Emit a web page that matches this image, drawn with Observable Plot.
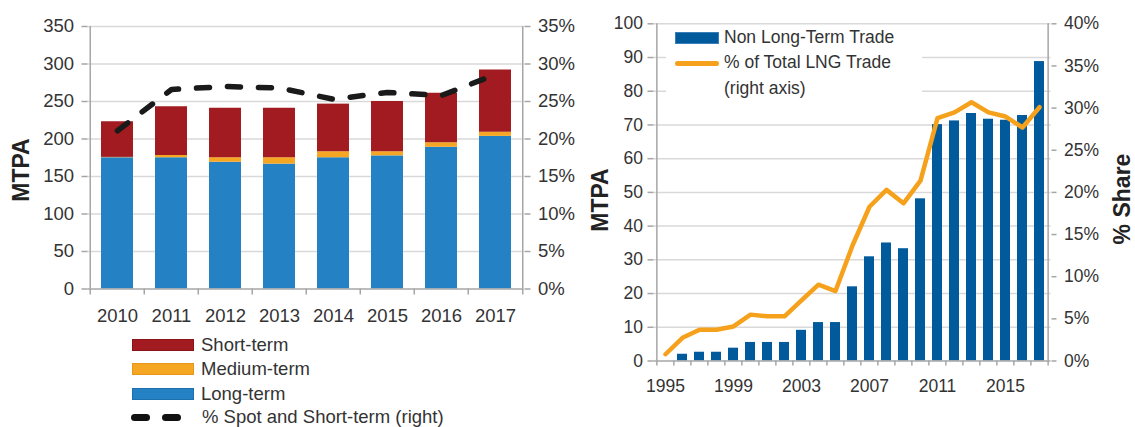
<!DOCTYPE html>
<html><head><meta charset="utf-8">
<script src="https://cdn.jsdelivr.net/npm/d3@7"></script>
<script src="https://cdn.jsdelivr.net/npm/@observablehq/plot@0.6"></script>
<style>
body{margin:0;background:#fff;}
#wrap{position:relative;width:1135px;height:427px;overflow:hidden;font-family:"Liberation Sans",Arial,sans-serif;color:#333;}
.plot{position:absolute;top:0;}
.rot{position:absolute;transform:translate(-50%,-50%) rotate(-90deg);font-weight:bold;font-size:23px;white-space:nowrap;color:#222;line-height:1;}
.leg{position:absolute;white-space:nowrap;line-height:1;}
.sw{position:absolute;}
</style></head><body><div id="wrap"></div>
<script>
// ---------- Left chart data ----------
const years = [2010, 2011, 2012, 2013, 2014, 2015, 2016, 2017];
const longTerm = [175, 175, 169, 166.5, 175, 177.5, 189, 203.5];
const mediumTerm = [0.5, 3, 6, 8.5, 8, 5.5, 6, 5.5];
const shortTerm = [47.5, 65, 66, 66, 63.5, 67, 66, 83];
const spotPct = [21.1, 26.6, 27.0, 26.8, 25.3, 26.2, 25.8, 28.6];
const types = ["Long-term", "Medium-term", "Short-term"];
const leftTicks = [0, 50, 100, 150, 200, 250, 300, 350];
const leftPctTicks = [0, 5, 10, 15, 20, 25, 30, 35];

// ---------- Right chart data ----------
const years2 = [1995,1996,1997,1998,1999,2000,2001,2002,2003,2004,2005,2006,2007,2008,2009,2010,2011,2012,2013,2014,2015,2016,2017];
const nonLT = [null, 2.0, 2.6, 2.6, 3.8, 5.5, 5.5, 5.5, 9.1, 11.4, 11.4, 22.0, 30.9, 35.0, 33.3, 48.1, 70.1, 71.2, 73.4, 71.7, 71.4, 72.8, 88.8];
const sharePct = [0.8, 2.75, 3.7, 3.7, 4.1, 5.5, 5.3, 5.3, 7.2, 9.05, 8.3, 13.7, 18.3, 20.3, 18.7, 21.4, 28.8, 29.5, 30.7, 29.5, 29.0, 27.7, 30.1];
const rightTicks = [0,10,20,30,40,50,60,70,80,90,100];
const rightPctTicks = [0,5,10,15,20,25,30,35,40];
const xLabelYears = [1995, 1999, 2003, 2007, 2011, 2015];

const C = {blue:"#2481C4", orange:"#F5A623", red:"#A11B20", navy:"#005A9C", lineOrange:"#F6A11C", axis:"#A6A6A6", grid:"#D9D9D9", text:"#333333"};
const FONT = '"Liberation Sans", Arial, sans-serif';
const wrap = document.getElementById("wrap");

// ---------- Left chart ----------
const W1 = 570, H1 = 330, ml1 = 87.5, mr1 = 46.5, mt1 = 26, mb1 = 41.5;
const step1 = (W1 - ml1 - mr1) / years.length;
const pad1 = 0.413;
const stackData = years.flatMap((y, i) => [
  {year: y, type: types[0], v: longTerm[i]},
  {year: y, type: types[1], v: mediumTerm[i]},
  {year: y, type: types[2], v: shortTerm[i]}
]);
const spotData = years.map((y, i) => ({year: y, p: spotPct[i]}));

const left = Plot.plot({
  width: W1, height: H1, marginLeft: ml1, marginRight: mr1, marginTop: mt1, marginBottom: mb1,
  style: {fontFamily: FONT, fontSize: "18px", color: C.text, background: "transparent", overflow: "visible"},
  x: {type: "band", domain: years, paddingInner: pad1, paddingOuter: pad1 / 2, axis: null},
  y: {domain: [0, 350], axis: null},
  color: {domain: types, range: [C.blue, C.orange, C.red]},
  marks: [
    Plot.gridY(leftTicks.slice(1), {stroke: C.grid, strokeOpacity: 1, strokeWidth: 1.5}),
    Plot.barY(stackData, {x: "year", y: "v", fill: "type"}),
    Plot.ruleY([0], {stroke: C.axis, strokeWidth: 1.5}),
    Plot.ruleX([years[0]], {dx: -step1 / 2, stroke: C.axis, strokeWidth: 1.5}),
    Plot.ruleX([years[years.length - 1]], {dx: step1 / 2, stroke: C.axis, strokeWidth: 1.5}),
    Plot.line(spotData, {x: "year", y: d => d.p * 10, stroke: "#1a1a1a", strokeWidth: 5.5, strokeDasharray: "13,18", strokeLinecap: "round", strokeLinejoin: "round"}),
    Plot.axisY({ticks: leftTicks, tickSize: 6, tickPadding: 8, stroke: C.axis, strokeWidth: 1.5, fill: C.text, fontSize: 18.5, label: null}),
    Plot.axisY({anchor: "right", ticks: leftPctTicks.map(d => d * 10), tickFormat: d => (d / 10) + "%", tickSize: 6, tickPadding: 8, stroke: C.axis, strokeWidth: 1.5, fill: C.text, fontSize: 18.5, label: null}),
    Plot.axisX({ticks: years, tickSize: 0, tickPadding: 20, tickFormat: d => String(d), fill: C.text, fontSize: 18.5, label: null}),
    Plot.axisX({ticks: years, tickSize: 6, tickFormat: () => "", dx: -step1 / 2, stroke: C.axis, strokeWidth: 1.5, label: null}),
    Plot.axisX({ticks: [years[years.length - 1]], tickSize: 6, tickFormat: () => "", dx: step1 / 2, stroke: C.axis, strokeWidth: 1.5, label: null})
  ]
});
left.classList.add("plot");
left.style.left = "0px";
wrap.appendChild(left);

// ---------- Right chart ----------
const X2 = 570;
const W2 = 565, H2 = 400, ml2 = 83.5, mr2 = 84.5, mt2 = 23.3, mb2 = 39.5;
const step2 = (W2 - ml2 - mr2) / years2.length;
const pad2 = 0.4;
const barData = years2.map((y, i) => ({year: y, v: nonLT[i]})).filter(d => d.v != null);
const shareData = years2.map((y, i) => ({year: y, p: sharePct[i]}));

const right = Plot.plot({
  width: W2, height: H2, marginLeft: ml2, marginRight: mr2, marginTop: mt2, marginBottom: mb2,
  style: {fontFamily: FONT, fontSize: "17px", color: C.text, background: "transparent", overflow: "visible"},
  x: {type: "band", domain: years2, paddingInner: pad2, paddingOuter: pad2 / 2, axis: null},
  y: {domain: [0, 100], axis: null},
  marks: [
    Plot.gridY(rightTicks.slice(1), {stroke: C.grid, strokeOpacity: 1, strokeWidth: 1.5}),
    Plot.barY(barData, {x: "year", y: "v", fill: C.navy}),
    Plot.ruleY([0], {stroke: C.axis, strokeWidth: 1.5}),
    Plot.ruleX([years2[0]], {dx: -step2 / 2, stroke: C.axis, strokeWidth: 1.5}),
    Plot.ruleX([years2[years2.length - 1]], {dx: step2 / 2, stroke: C.axis, strokeWidth: 1.5}),
    Plot.line(shareData, {x: "year", y: d => d.p * 2.5, stroke: C.lineOrange, strokeWidth: 4.5, strokeLinecap: "round", strokeLinejoin: "round"}),
    Plot.axisY({ticks: rightTicks, tickSize: 6, tickPadding: 5, stroke: C.axis, strokeWidth: 1.5, fill: C.text, fontSize: 17.5, label: null}),
    Plot.axisY({anchor: "right", ticks: rightPctTicks.map(d => d * 2.5), tickFormat: d => (d / 2.5) + "%", tickSize: 5, tickPadding: 8, stroke: C.axis, strokeWidth: 1.5, fill: C.text, fontSize: 17.5, label: null}),
    Plot.axisX({ticks: xLabelYears, tickSize: 0, tickPadding: 19, tickFormat: d => String(d), fill: C.text, fontSize: 17.5, label: null}),
    Plot.axisX({ticks: years2, tickSize: 5, tickFormat: () => "", dx: -step2 / 2, stroke: C.axis, strokeWidth: 1.5, label: null}),
    Plot.axisX({ticks: [years2[years2.length - 1]], tickSize: 5, tickFormat: () => "", dx: step2 / 2, stroke: C.axis, strokeWidth: 1.5, label: null})
  ]
});
right.classList.add("plot");
right.style.left = X2 + "px";
wrap.appendChild(right);

// ---------- Axis titles ----------
function rotLabel(text, cx, cy) {
  const d = document.createElement("div");
  d.className = "rot";
  d.textContent = text;
  d.style.left = cx + "px";
  d.style.top = cy + "px";
  wrap.appendChild(d);
}
rotLabel("MTPA", 21, 170);
rotLabel("MTPA", 600, 200);
rotLabel("% Share", 1122, 199);

// ---------- Left legend ----------
const leftLegend = [
  {label: "Short-term", color: C.red, border: "#8a1418", cy: 345},
  {label: "Medium-term", color: C.orange, border: "#e8961a", cy: 369.5},
  {label: "Long-term", color: C.blue, border: "#1d6fae", cy: 394}
];
leftLegend.forEach(it => {
  const s = document.createElement("div");
  s.className = "sw";
  Object.assign(s.style, {left: "132px", top: (it.cy - 6.5) + "px", width: "62px", height: "12px", background: it.color, border: "0.5px solid " + it.border, boxSizing: "border-box"});
  wrap.appendChild(s);
  const t = document.createElement("div");
  t.className = "leg";
  t.textContent = it.label;
  Object.assign(t.style, {left: "201px", top: (it.cy - 0.49 * 18.5) + "px", fontSize: "18.5px"});
  wrap.appendChild(t);
});
{
  const cy = 417;
  [131, 162].forEach(x0 => {
    const s = document.createElement("div");
    s.className = "sw";
    Object.assign(s.style, {left: x0 + "px", top: (cy - 3.5) + "px", width: "19px", height: "7px", background: "#111", borderRadius: "3.5px"});
    wrap.appendChild(s);
  });
  const t = document.createElement("div");
  t.className = "leg";
  t.textContent = "% Spot and Short-term (right)";
  Object.assign(t.style, {left: "202px", top: (cy - 0.49 * 18.5) + "px", fontSize: "18.5px"});
  wrap.appendChild(t);
}

// ---------- Right legend ----------
{
  const box = document.createElement("div");
  Object.assign(box.style, {position: "absolute", left: "666px", top: "27px", width: "256px", height: "74px", background: "#fff"});
  wrap.appendChild(box);
  const s1 = document.createElement("div");
  s1.className = "sw";
  Object.assign(s1.style, {left: "675px", top: "32px", width: "44px", height: "11.5px", background: C.navy, border: "0.5px solid #3a7fb8", boxSizing: "border-box"});
  wrap.appendChild(s1);
  const s2 = document.createElement("div");
  s2.className = "sw";
  Object.assign(s2.style, {left: "675px", top: "60.5px", width: "44px", height: "5px", background: C.lineOrange, borderRadius: "2.5px"});
  wrap.appendChild(s2);
  [["Non Long-Term Trade", 37.5], ["% of Total LNG Trade", 63], ["(right axis)", 89]].forEach(([txt, cy]) => {
    const t = document.createElement("div");
    t.className = "leg";
    t.textContent = txt;
    Object.assign(t.style, {left: "724px", top: (cy - 0.49 * 17.5) + "px", fontSize: "17.5px"});
    wrap.appendChild(t);
  });
}
</script>
</body></html>
